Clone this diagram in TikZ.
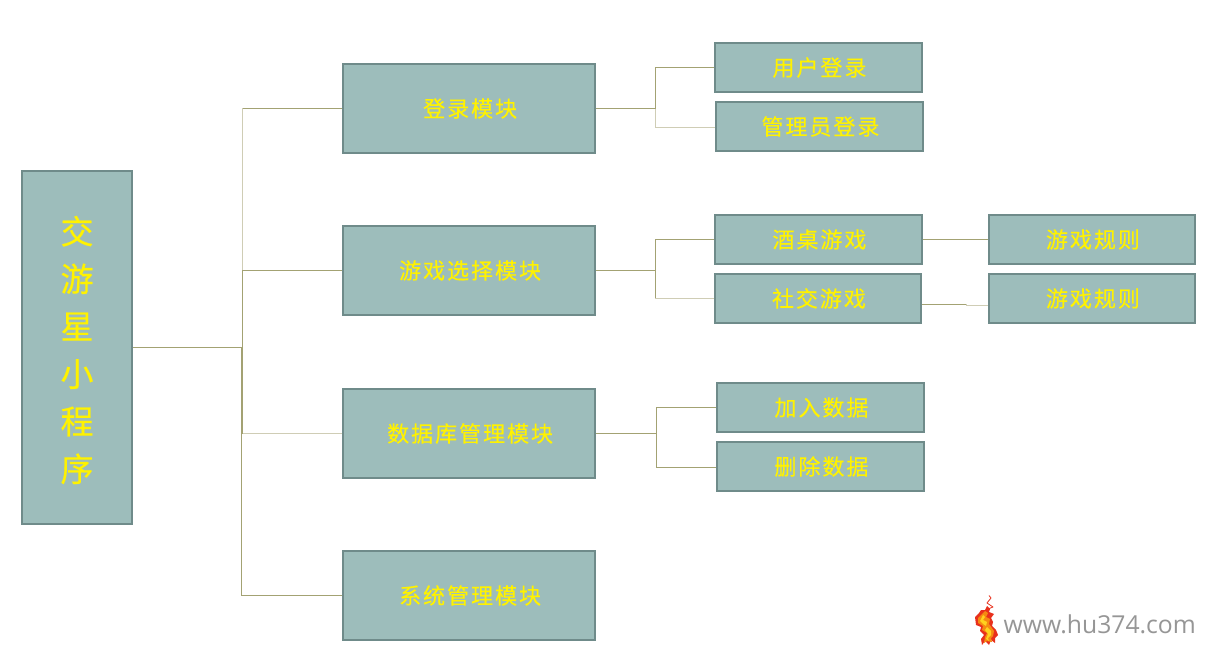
\documentclass[tikz,border=0pt]{standalone}
\usepackage{fontspec}
\newfontfamily\cjk[LetterSpace=9,FakeBold=0.35]{Noto Sans CJK SC}
\newfontfamily\rootcjk[FakeBold=0.35]{Noto Sans CJK SC}
\setsansfont{Open Sans}
\definecolor{boxfill}{HTML}{9DBDBB}
\definecolor{boxline}{HTML}{6F8B8A}
\definecolor{wire}{HTML}{A3A273}
\definecolor{wirepale}{HTML}{CFCDB5}
\definecolor{marktext}{HTML}{969696}
\definecolor{flamered}{HTML}{E8301C}
\definecolor{flameorange}{HTML}{F58A12}
\definecolor{flameyellow}{HTML}{FFD21E}
\tikzset{
  x=1pt,y=-1pt,
  modbox/.style={draw=boxline,fill=boxfill,line width=1.9pt,inner sep=0pt,text=yellow,anchor=north west,align=center},
  bigbox/.style={modbox,minimum width=251.5pt,minimum height=88.3pt,font=\cjk\fontsize{22}{26}\selectfont,execute at begin node={\hspace*{2pt}}},
  leafbox/.style={modbox,minimum height=48.3pt,font=\cjk\fontsize{22}{26}\selectfont,execute at begin node={\hspace*{2pt}}},
  rootbox/.style={modbox,minimum width=109.8pt,minimum height=352.7pt,font=\rootcjk\fontsize{33}{47.5}\selectfont},
  wireline/.style={draw=wire,line width=1.1pt},
  paleline/.style={draw=wirepale,line width=1.4pt}
}
\begin{document}
\begin{tikzpicture}
\useasboundingbox (0,0) rectangle (1219,652);
\fill[white] (0,0) rectangle (1219,652);
% connector bend points
\coordinate (trunk) at (242.5,347.5);
\coordinate (trunklow) at (241.5,347.5);
\coordinate (j1) at (655.5,108.5);
\coordinate (j1b) at (655.5,127.5);
\coordinate (j2) at (655.5,270.5);
\coordinate (j3) at (656.5,433.5);
\coordinate (j3b) at (656.5,467.5);
\coordinate (bend) at (966.5,304.5);
\coordinate (bendb) at (966.5,305.5);
% nodes
\node[rootbox] (root) at (21.2,170.2) {\rule{0pt}{33pt}交\\游\\星\\小\\程\\序};
\node[bigbox] (login) at (342.4,63.4) {登录模块};
\node[bigbox] (game) at (342.4,225.4) {游戏选择模块};
\node[bigbox] (data) at (342.4,388.4) {数据库管理模块};
\node[bigbox] (sys) at (342.4,550.4) {系统管理模块};
\node[leafbox,minimum width=207pt] (user) at (714,42.4) {用户登录};
\node[leafbox,minimum width=207pt] (admin) at (715,101.4) {管理员登录};
\node[leafbox,minimum width=207pt] (bar) at (714,214.4) {酒桌游戏};
\node[leafbox,minimum width=206pt] (social) at (714,273.4) {社交游戏};
\node[leafbox,minimum width=207pt] (add) at (716,382.4) {加入数据};
\node[leafbox,minimum width=207pt] (del) at (716,441.4) {删除数据};
\node[leafbox,minimum width=206pt] (rulea) at (988,214.4) {游戏规则};
\node[leafbox,minimum width=206pt] (ruleb) at (988,273.4) {游戏规则};
% connectors
\draw[paleline] (trunk) -- (trunk |- login.west);
\draw[wireline] (trunk |- login.west) -- (login.west);
\draw[wireline] (trunk) |- (game.west);
\draw[paleline] (trunklow) |- (data.west);
\draw[wireline] (trunk) -- (trunk |- data.west);
\draw[wireline] (trunklow) |- (sys.west);
\draw[wireline] (root.east |- trunk) -- (trunk);
\draw[paleline] (j1) -- (j1b) -- (j1b -| admin.west);
\draw[wireline] (j1) |- (user.west);
\draw[wireline] (login.east) -- (login.east -| j1);
\draw[paleline] (j2) |- (social.west);
\draw[wireline] (j2) |- (bar.west);
\draw[wireline] (j2) -- (j2 |- social.west);
\draw[wireline] (game.east) -- (game.east -| j2);
\draw[wireline] (data.east) -- (data.east -| j3);
\draw[wireline] (j3) |- (add.west);
\draw[wireline] (j3) -- (j3b) -- (j3b -| del.west);
\draw[wireline] (bar.east) -- (bar.east -| rulea.west);
\draw[wireline] (bend -| social.east) -- (bend);
\draw[paleline] (bend) -- (bendb) -- (bendb -| ruleb.west);
% watermark
\node[anchor=west,inner sep=0pt,text=marktext,font=\sffamily\fontsize{24.7}{26}\selectfont] (mark) at (1003.5,624.5) {www.hu374.com};
\draw[flamered,line width=0.8pt,line join=round] (989,595.5) -- (991,598) -- (987,603) -- (993,607) -- (988,609);
\fill[flamered] (987,606) -- (990,609) -- (989,612) -- (994,614) -- (991,618) -- (993,622) -- (992,626) -- (996,630) -- (998,635)
  -- (995,638) -- (995,643) -- (991,640) -- (989,645) -- (985,641) -- (982,645) -- (981,639) -- (984,635) -- (980,631)
  -- (981,627) -- (976,625) -- (975,617) -- (979,613) -- (981,610) -- (985,610) -- cycle;
\fill[flameorange] (985,611) -- (988,613) -- (986,617) -- (990,619) -- (989,624) -- (994,631) -- (993,636) -- (991,638)
  -- (992,642) -- (987,641) -- (984,643) -- (985,637) -- (987,633) -- (982,630) -- (983,626) -- (978,623) -- (978,618) -- (982,614) -- cycle;
\fill[flameyellow] (983,615) -- (985,617) -- (983,620) -- (987,622) -- (986,626) -- (983,624) -- (980,621) -- cycle;
\fill[flameyellow] (987,627) -- (991,631) -- (991,635) -- (988,638) -- (989,641) -- (986,639) -- (988,634) -- (985,630) -- cycle;
\end{tikzpicture}
\end{document}
